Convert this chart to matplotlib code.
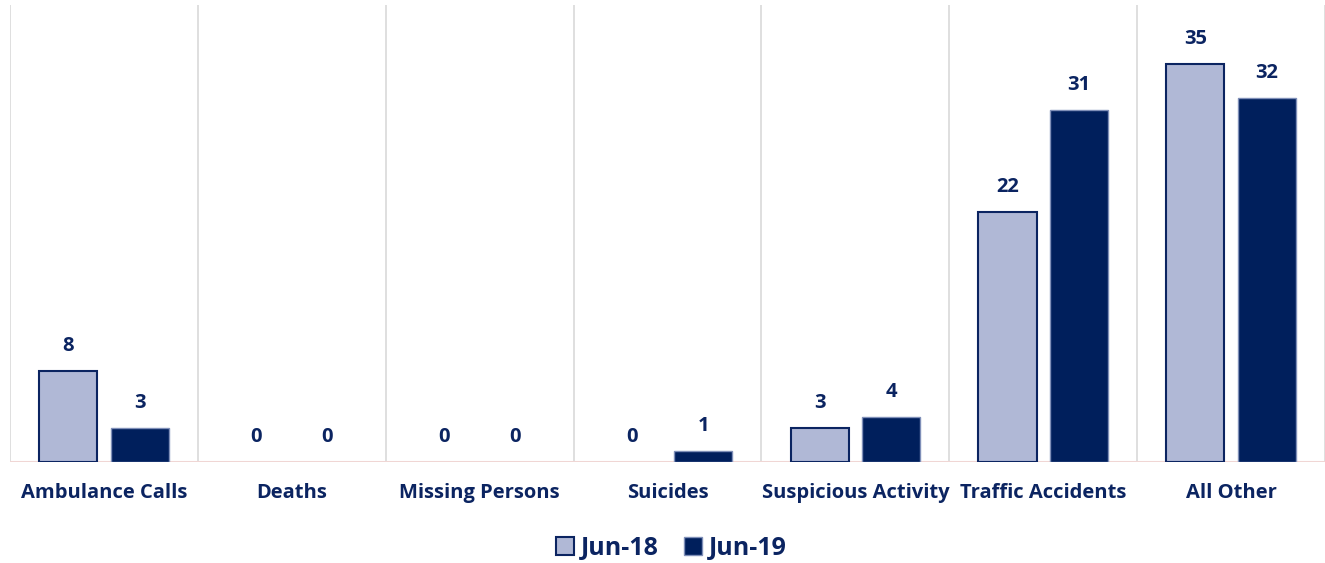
import numpy as np
import matplotlib as mpl
mpl.use('Agg')
import matplotlib.pyplot as plt
from matplotlib.patches import Patch

plt.rcParams['font.family'] = ['Open Sans', 'DejaVu Sans']

categories = ['Ambulance Calls', 'Deaths', 'Missing Persons', 'Suicides',
              'Suspicious Activity', 'Traffic Accidents', 'All Other']
jun18 = [8, 0, 0, 0, 3, 22, 35]
jun19 = [3, 0, 0, 1, 4, 31, 32]

navy = '#0B2461'
light = '#B0B8D6'
dark = '#001F5C'

fig = plt.figure(figsize=(13.25, 5.63), dpi=100)
ax = fig.add_axes([10 / 1325, 1 - 462 / 563, 1 - 10 / 1325, 457 / 563])

x = np.arange(len(categories))
w = 0.31
off = 0.19

# zero-valued bars get no outline, as in the original
lw18 = [1.5 if v > 0 else 0 for v in jun18]
lw19 = [1.0 if v > 0 else 0 for v in jun19]
ax.bar(x - off, jun18, width=w, color=light, edgecolor=navy, linewidth=lw18, zorder=3)
ax.bar(x + off, jun19, width=w, color=dark, edgecolor='#7F8FB8', linewidth=lw19, zorder=3)

for xi, v in zip(x - off, jun18):
    ax.text(xi, v + 1.3, str(v), ha='center', va='bottom', fontsize=14.5,
            fontweight='bold', color=navy)
for xi, v in zip(x + off, jun19):
    ax.text(xi, v + 1.3, str(v), ha='center', va='bottom', fontsize=14.5,
            fontweight='bold', color=navy)

ax.set_xlim(-0.5, len(categories) - 0.5)
ax.set_ylim(0, 40.2)

# category separators
for b in np.arange(-0.5, len(categories), 1.0):
    ax.axvline(b, color='#D9D9D9', linewidth=1.2, zorder=1)
ax.axhline(0, color='#F0D6D4', linewidth=1.5, zorder=2)

for s in ax.spines.values():
    s.set_visible(False)
ax.set_yticks([])
ax.set_xticks(x)
ax.set_xticklabels(categories, fontsize=14.5, fontweight='bold', color=navy)
ax.tick_params(axis='x', length=0, pad=15)

handles = [Patch(facecolor=light, edgecolor=navy, linewidth=1.5, label='Jun-18'),
           Patch(facecolor=dark, edgecolor='#7F8FB8', linewidth=1.0, label='Jun-19')]
fig.legend(handles=handles, loc='center', bbox_to_anchor=(671 / 1325, 1 - 548 / 563),
           ncol=2, frameon=False, handlelength=0.75, handleheight=0.75,
           handletextpad=0.25, columnspacing=1.0,
           prop={'size': 18, 'weight': 'bold'}, labelcolor=navy)

fig.savefig('out.png', dpi=100)
